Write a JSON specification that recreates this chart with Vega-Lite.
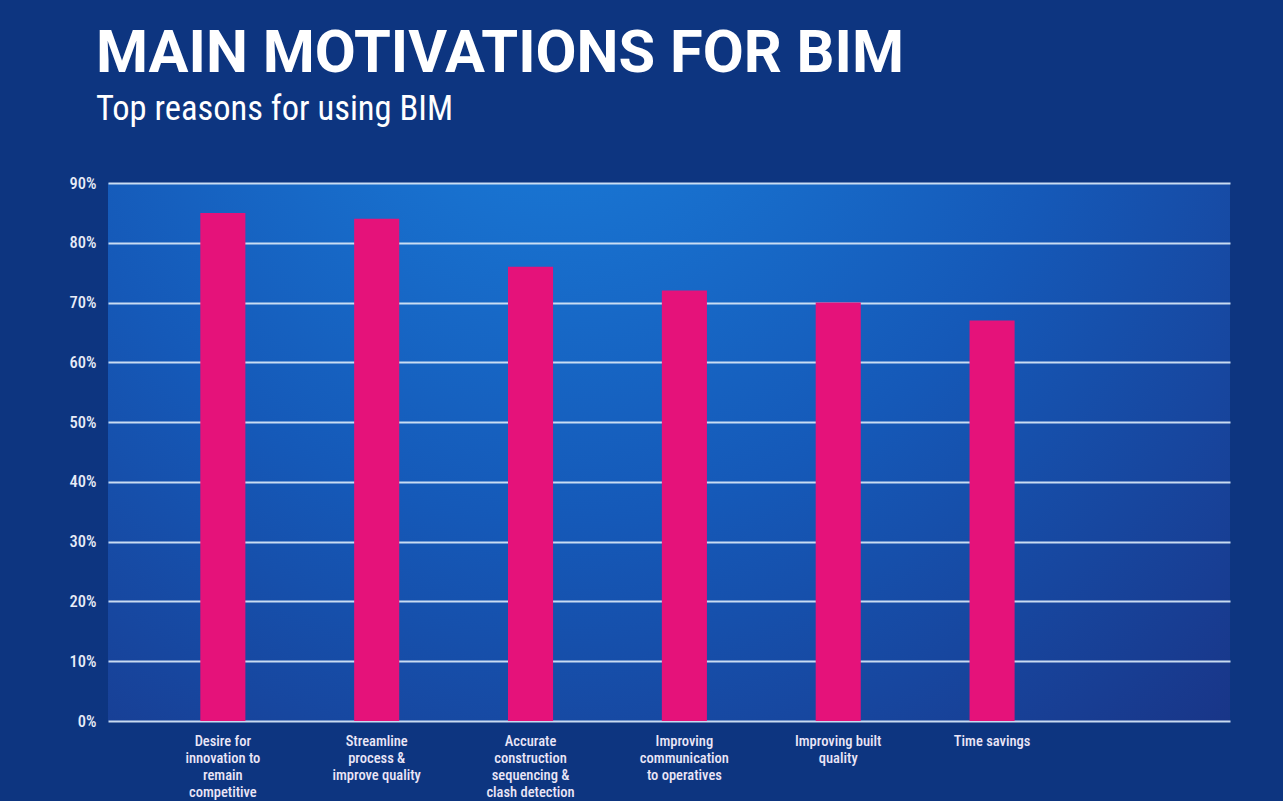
{
  "$schema": "https://vega.github.io/schema/vega-lite/v6.json",
  "autosize": {"type": "none"},
  "padding": {"left": 108, "top": 183, "right": 53, "bottom": 80},
  "width": 1122,
  "height": 538,
  "background": "#0d3580",
  "title": {
    "text": "MAIN MOTIVATIONS FOR BIM",
    "subtitle": "Top reasons for using BIM",
    "anchor": "start",
    "frame": "group",
    "dx": -12,
    "offset": 48,
    "font": "Roboto",
    "fontSize": 59.5,
    "fontWeight": "bold",
    "color": "#ffffff",
    "subtitleFont": "Roboto Condensed, Roboto",
    "subtitleFontSize": 34.5,
    "subtitleFontWeight": "normal",
    "subtitleColor": "#ffffff",
    "subtitlePadding": 8
  },
  "config": {
    "view": {
      "stroke": null,
      "fill": {
        "gradient": "radial",
        "x1": 0.4, "y1": 0.1, "r1": 0.02,
        "x2": 0.4, "y2": 0.1, "r2": 1.0,
        "stops": [
          {"offset": 0, "color": "#1a7fdc"},
          {"offset": 0.45, "color": "#1559b8"},
          {"offset": 1, "color": "#1a2b7a"}
        ]
      }
    }
  },
  "data": {
    "values": [
      {"reason": "Desire for|innovation to|remain|competitive", "pct": 85},
      {"reason": "Streamline|process &|improve quality", "pct": 84},
      {"reason": "Accurate|construction|sequencing &|clash detection", "pct": 76},
      {"reason": "Improving|communication|to operatives", "pct": 72},
      {"reason": "Improving built|quality", "pct": 70},
      {"reason": "Time savings", "pct": 67}
    ]
  },
  "mark": {"type": "bar", "color": "#e5127a"},
  "encoding": {
    "x": {
      "field": "reason",
      "type": "nominal",
      "sort": null,
      "scale": {"paddingInner": 0.707, "paddingOuter": 1.0, "align": 0.3},
      "axis": {
        "title": null,
        "domain": false,
        "ticks": false,
        "grid": false,
        "labelAngle": 0,
        "labelAlign": "center",
        "labelBaseline": "top",
        "labelPadding": 13,
        "labelLimit": 0,
        "labelExpr": "split(datum.label, '|')",
        "labelLineHeight": 17,
        "labelFont": "Roboto Condensed, Roboto",
        "labelFontSize": 14.5,
        "labelFontWeight": 500,
        "labelColor": "#ebe6f7"
      }
    },
    "y": {
      "field": "pct",
      "type": "quantitative",
      "scale": {"domain": [0, 90], "nice": false},
      "axis": {
        "title": null,
        "domain": false,
        "ticks": false,
        "values": [0, 10, 20, 30, 40, 50, 60, 70, 80, 90],
        "labelExpr": "datum.value + '%'",
        "labelPadding": 12,
        "labelFont": "Roboto Condensed, Roboto",
        "labelFontSize": 16.5,
        "labelFontWeight": 500,
        "labelColor": "#e8ecf7",
        "gridColor": "#d3e4f6",
        "gridWidth": 2,
        "gridOpacity": 0.95
      }
    }
  }
}
